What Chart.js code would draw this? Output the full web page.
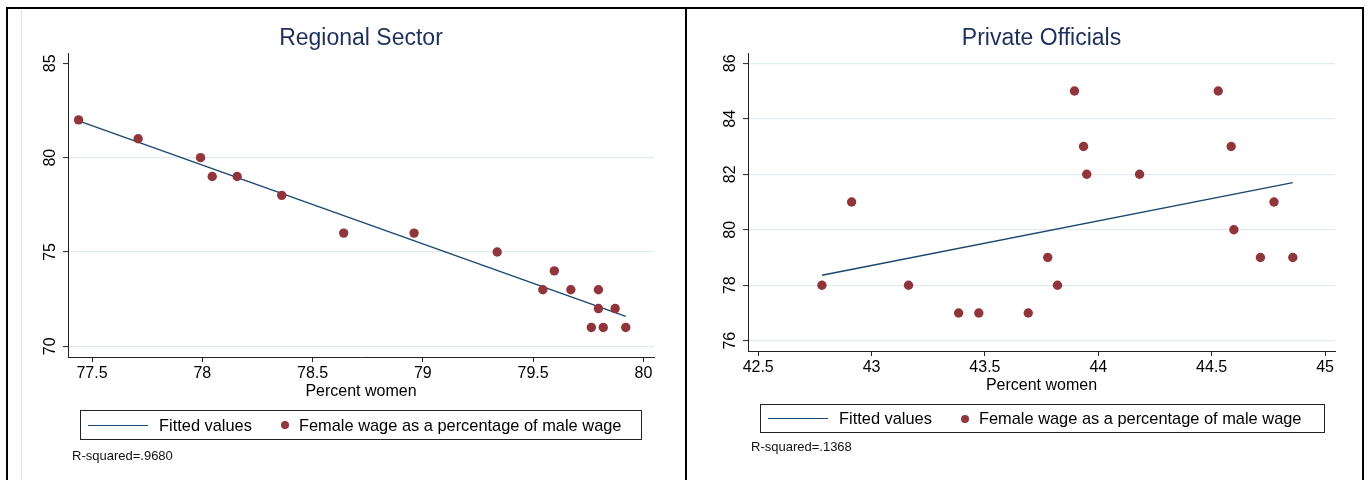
<!DOCTYPE html>
<html>
<head>
<meta charset="utf-8">
<title>Female wage vs percent women</title>
<script src="https://cdn.jsdelivr.net/npm/chart.js@4.4.1/dist/chart.umd.min.js"></script>
<style>
  html, body { margin: 0; padding: 0; background: #fff; width: 1369px; height: 480px; overflow: hidden;
    font-family: 'Liberation Sans', Arial, Helvetica, sans-serif; }
  #frame { position: absolute; left: 6px; top: 7px; width: 1354px; height: 480px;
    border: 2px solid #000; border-bottom: none; }
  #divider { position: absolute; left: 685px; top: 7px; width: 2px; height: 473px; background: #000; }
  #edge { position: absolute; left: 21px; top: 9px; width: 1px; height: 471px; background: #e2e2e2; }
  canvas { position: absolute; }
  #cLeft { left: 8px; top: 9px; }
  #cRight { left: 687px; top: 9px; }
  .legend { position: absolute; box-sizing: border-box; border: 1px solid #222; display: flex;
    align-items: center; padding-left: 7px; font-size: 16.4px; color: #000; white-space: nowrap; }
  .legend .item { display: flex; align-items: center; }
  .legend .item + .item { margin-left: 29px; }
  .legend .key-line { display: inline-block; width: 60px; height: 0; border-top: 1.5px solid; margin-right: 11px; }
  .legend .key-dot { display: inline-block; width: 8px; height: 8px; border-radius: 50%; margin-right: 10px; }
  #legLeft { left: 80px; top: 410px; width: 562px; height: 30px; }
  #legRight { left: 760px; top: 404px; width: 565px; height: 29px; }
  .note { position: absolute; font-size: 13px; line-height: 15px; color: #111; white-space: nowrap; }
  #noteLeft { left: 72px; top: 448px; }
  #noteRight { left: 751px; top: 439px; }
</style>
</head>
<body>
<div id="frame"></div>
<div id="divider"></div>
<div id="edge"></div>
<canvas id="cLeft" width="677" height="471"></canvas>
<canvas id="cRight" width="674" height="471"></canvas>
<div id="legLeft" class="legend"></div>
<div id="legRight" class="legend"></div>
<div id="noteLeft" class="note"></div>
<div id="noteRight" class="note"></div>

<script>
// ---- Regional Sector ----
const regionalPercentWomen = [77.439, 77.709, 77.992, 78.045, 78.158, 78.360, 78.641, 78.960, 79.337,
  79.544, 79.596, 79.671, 79.796, 79.796, 79.764, 79.818, 79.872, 79.920];
const regionalWageRatio = [82, 81, 80, 79, 79, 78, 76, 76, 75, 73, 74, 73, 73, 72, 71, 71, 72, 71];
const regionalFitX = [77.439, 79.920];
const regionalFitY = [81.95, 71.59];
const regionalXTicks = [77.5, 78, 78.5, 79, 79.5, 80];
const regionalYTicks = [70, 75, 80, 85];
const regionalRSquared = '.9680';

// ---- Private Officials ----
const privatePercentWomen = [42.781, 42.912, 43.163, 43.384, 43.473, 43.691, 43.777, 43.820, 43.895,
  43.935, 43.949, 44.182, 44.529, 44.586, 44.598, 44.715, 44.775, 44.858];
const privateWageRatio = [78, 81, 78, 77, 77, 77, 79, 78, 85, 83, 82, 82, 85, 83, 80, 79, 81, 79];
const privateFitX = [42.781, 44.858];
const privateFitY = [78.36, 81.70];
const privateXTicks = [42.5, 43, 43.5, 44, 44.5, 45];
const privateYTicks = [76, 78, 80, 82, 84, 86];
const privateRSquared = '.1368';

const seriesLabels = ['Fitted values', 'Female wage as a percentage of male wage'];
const xAxisTitle = 'Percent women';

const NAVY = '#1a476f';
const MAROON = '#90353b';
const TITLE = '#1f2f5c';
const AXIS = '#222';
const GRID = '#e2ecee';

Chart.defaults.font.family = "'Liberation Sans', Arial, Helvetica, sans-serif";
Chart.defaults.color = '#000';

const pairs = (xs, ys) => xs.map((x, i) => ({ x, y: ys[i] }));

function buildLegend(chart, el) {
  el.innerHTML = '';
  chart.data.datasets.forEach(ds => {
    const item = document.createElement('span');
    item.className = 'item';
    const key = document.createElement('span');
    if (ds.showLine) {
      key.className = 'key-line';
      key.style.borderTopColor = ds.borderColor;
    } else {
      key.className = 'key-dot';
      key.style.background = ds.backgroundColor;
    }
    const txt = document.createElement('span');
    txt.textContent = ds.label;
    item.append(key, txt);
    el.append(item);
  });
}

function makePanel(opts) {
  const chart = new Chart(document.getElementById(opts.canvas), {
    type: 'scatter',
    data: {
      datasets: [
        {
          label: seriesLabels[0],
          data: pairs(opts.fitX, opts.fitY),
          showLine: true,
          borderColor: NAVY,
          borderWidth: 1.4,
          pointRadius: 0,
          fill: false,
          order: 2
        },
        {
          label: seriesLabels[1],
          data: pairs(opts.xs, opts.ys),
          backgroundColor: MAROON,
          borderColor: MAROON,
          borderWidth: 0,
          pointRadius: 4.7,
          order: 1
        }
      ]
    },
    options: {
      responsive: false,
      animation: false,
      events: [],
      devicePixelRatio: 1,
      layout: { padding: opts.padding },
      plugins: {
        legend: { display: false },
        tooltip: { enabled: false },
        title: {
          display: true,
          text: opts.title,
          fullSize: false,
          color: TITLE,
          font: { size: 23, weight: 'normal', lineHeight: '26px' },
          padding: { top: 0, bottom: 1 }
        }
      },
      scales: {
        x: {
          type: 'linear',
          min: opts.xRange[0],
          max: opts.xRange[1],
          afterBuildTicks: s => { s.ticks = opts.xTicks.map(v => ({ value: v })); },
          afterFit: s => { s.height = 50; },
          grid: { drawOnChartArea: false, drawTicks: true, tickLength: 5, tickColor: AXIS, tickWidth: 1 },
          border: { display: true, color: AXIS, width: 1 },
          ticks: { padding: 2, color: '#000', autoSkip: false, maxRotation: 0,
            font: { size: 16, lineHeight: 1.2 }, callback: v => String(v) },
          title: { display: true, text: xAxisTitle, color: '#000',
            font: { size: 16, lineHeight: '20px' }, padding: { top: 0, bottom: 5 } }
        },
        y: {
          type: 'linear',
          min: opts.yRange[0],
          max: opts.yRange[1],
          afterBuildTicks: s => { s.ticks = opts.yTicks.map(v => ({ value: v })); },
          afterFit: s => { s.width = 40; },
          grid: {
            color: ctx => (ctx.tick && opts.noGrid.includes(ctx.tick.value)) ? 'rgba(0,0,0,0)' : GRID,
            lineWidth: 1.2,
            drawTicks: true, tickLength: 5, tickColor: AXIS, tickWidth: 1
          },
          border: { display: true, color: AXIS, width: 1 },
          ticks: { padding: 4, color: '#000', autoSkip: false, minRotation: 90, maxRotation: 90,
            crossAlign: 'center', font: { size: 16, lineHeight: 1.2 }, callback: v => String(v) }
        }
      }
    }
  });
  buildLegend(chart, document.getElementById(opts.legend));
  document.getElementById(opts.note).textContent = 'R-squared=' + opts.r2;
  return chart;
}

makePanel({
  canvas: 'cLeft', legend: 'legLeft', note: 'noteLeft',
  title: 'Regional Sector',
  xs: regionalPercentWomen, ys: regionalWageRatio,
  fitX: regionalFitX, fitY: regionalFitY,
  xTicks: regionalXTicks, yTicks: regionalYTicks,
  xRange: [77.391, 80.048], yRange: [69.433, 85.546],
  noGrid: [85],
  r2: regionalRSquared,
  padding: { left: 20, right: 31, top: 17, bottom: 73 }
});

makePanel({
  canvas: 'cRight', legend: 'legRight', note: 'noteRight',
  title: 'Private Officials',
  xs: privatePercentWomen, ys: privateWageRatio,
  fitX: privateFitX, fitY: privateFitY,
  xTicks: privateXTicks, yTicks: privateYTicks,
  xRange: [42.455, 45.044], yRange: [75.629, 86.371],
  noGrid: [],
  r2: privateRSquared,
  padding: { left: 21, right: 26, top: 17, bottom: 79 }
});
</script>
</body>
</html>
